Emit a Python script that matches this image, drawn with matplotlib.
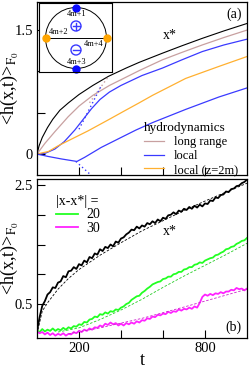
import numpy as np
import matplotlib
matplotlib.use("Agg")
import matplotlib.pyplot as plt
from matplotlib.patches import Circle

plt.rcParams['font.family'] = ['Liberation Serif', 'DejaVu Serif']
plt.rcParams['mathtext.fontset'] = 'stix'

# ---- panel (a) data ----
xs_t = [0, 10, 25, 50, 75, 109, 150, 200, 266, 340, 424, 487, 597, 690, 787, 890, 1000]
xs_v = [0, 0.10, 0.20, 0.32, 0.42, 0.53, 0.62, 0.72, 0.83, 0.94, 1.04, 1.11, 1.22, 1.31, 1.40, 1.49, 1.58]

lr_t = [0, 38, 85, 148, 200, 266, 345, 424, 487, 597, 690, 787, 890, 1000]
lr_v = [0, 0.13, 0.27, 0.45, 0.58, 0.71, 0.83, 0.93, 1.01, 1.14, 1.23, 1.32, 1.41, 1.50]
lr_fit_t = [250, 335]
lr_fit_v = [0.62, 0.92]

loc_t = [0, 40, 85, 130, 180, 220, 260, 300, 345, 400, 450, 500, 597, 690, 787, 890, 1000]
loc_v = [0, 0.01, 0.06, 0.15, 0.29, 0.42, 0.55, 0.66, 0.75, 0.83, 0.89, 0.95, 1.04, 1.14, 1.24, 1.32, 1.39]
loc_fit_t = [200, 305]
loc_fit_v = [0.30, 0.82]

z2_t = [0, 54, 101, 164, 243, 337, 408, 487, 550, 708, 866, 1000]
z2_v = [0, 0.03, 0.10, 0.18, 0.28, 0.41, 0.51, 0.62, 0.71, 0.915, 1.06, 1.18]

low_t = [0, 54, 117, 190, 227, 306, 408, 471, 550, 708, 866, 1000]
low_v = [0, -0.03, -0.06, -0.09, -0.04, 0.08, 0.21, 0.29, 0.38, 0.54, 0.69, 0.80]
low_fit_t = [185, 255]
low_fit_v = [-0.09, -0.25]

# ---- panel (b) data ----
b_black = [0.05, 0.28, 0.47, 0.55, 0.66, 0.70, 0.78, 0.77, 0.86, 0.88, 0.97, 0.95, 1.05,
           1.06, 1.12, 1.09, 1.17, 1.15, 1.23, 1.20, 1.29, 1.27, 1.35, 1.33, 1.42, 1.39,
           1.46, 1.44, 1.50, 1.47, 1.55, 1.53, 1.60, 1.62, 1.67, 1.70, 1.75, 1.74, 1.80,
           1.77, 1.82, 1.80, 1.86, 1.84, 1.89, 1.86, 1.92, 1.89, 1.95, 1.93, 1.99, 2.00,
           2.04, 2.01, 2.07, 2.05, 2.10, 2.08, 2.13, 2.10, 2.15, 2.12, 2.17, 2.14, 2.19,
           2.18, 2.24, 2.23, 2.29, 2.28, 2.33, 2.34, 2.39, 2.38, 2.43, 2.44, 2.48, 2.49,
           2.53, 2.55, 2.59]
b_green = [0.06, 0.03, 0.08, 0.04, 0.07, 0.05, 0.09, 0.05, 0.08, 0.06, 0.10, 0.07, 0.11,
           0.09, 0.13, 0.12, 0.16, 0.15, 0.20, 0.19, 0.24, 0.25, 0.29, 0.28, 0.33, 0.32,
           0.36, 0.34, 0.38, 0.37, 0.41, 0.40, 0.44, 0.46, 0.50, 0.52, 0.57, 0.60, 0.63,
           0.64, 0.69, 0.72, 0.76, 0.79, 0.83, 0.85, 0.87, 0.88, 0.92, 0.93, 0.96, 0.96,
           1.00, 1.01, 1.04, 1.04, 1.08, 1.09, 1.12, 1.12, 1.16, 1.17, 1.20, 1.19, 1.23,
           1.25, 1.27, 1.28, 1.32, 1.33, 1.36, 1.38, 1.42, 1.43, 1.46, 1.47, 1.51, 1.53,
           1.56, 1.57, 1.61]
b_mag = [0.04, 0.01, 0.03, -0.01, 0.02, -0.02, 0.01, -0.03, 0.00, -0.02, 0.01, -0.03, 0.00,
         -0.01, 0.03, 0.01, 0.05, 0.03, 0.07, 0.05, 0.09, 0.07, 0.11, 0.10, 0.14, 0.12,
         0.17, 0.15, 0.19, 0.16, 0.18, 0.14, 0.17, 0.14, 0.18, 0.16, 0.19, 0.17, 0.21,
         0.19, 0.23, 0.22, 0.26, 0.25, 0.29, 0.28, 0.32, 0.31, 0.34, 0.33, 0.37, 0.35,
         0.38, 0.37, 0.41, 0.39, 0.42, 0.41, 0.44, 0.42, 0.46, 0.44, 0.52, 0.62, 0.66,
         0.64, 0.67, 0.65, 0.68, 0.67, 0.70, 0.68, 0.71, 0.71, 0.74, 0.73, 0.77, 0.75,
         0.76, 0.73, 0.76]

fit_black_t = [0, 25, 50, 100, 150, 200, 300, 400, 500, 600, 700, 800, 900, 1000]
fit_black_v = [0.0, 0.38, 0.52, 0.75, 0.93, 1.08, 1.32, 1.53, 1.73, 1.90, 2.07, 2.23, 2.38, 2.53]
fit_green_t = [100, 200, 300, 400, 500, 600, 700, 800, 900, 1000]
fit_green_v = [0.03, 0.10, 0.24, 0.40, 0.58, 0.78, 0.97, 1.15, 1.33, 1.52]
fit_mag_t = [150, 300, 500, 700, 800, 900, 1000]
fit_mag_v = [0.0, 0.10, 0.26, 0.45, 0.55, 0.65, 0.75]

c_brown = '#c8a0a0'
c_blue = '#3a3aff'
c_orange = '#ffb030'

fig = plt.figure(figsize=(2.49, 3.68), dpi=100)
ax1 = fig.add_axes([37/249, 1-175/368, 210/249, 173/368])
ax2 = fig.add_axes([37/249, 1-338/368, 210/249, 159/368])

ylab = r'<h(x,t)>$_{\mathrm{F}_0}$'

# panel (a)
ax1.plot(xs_t, xs_v, color='k', lw=0.8)
ax1.plot(lr_t, lr_v, color=c_brown, lw=0.9, label='long range')
ax1.plot(loc_t, loc_v, color=c_blue, lw=0.9, label='local')
ax1.plot(z2_t, z2_v, color=c_orange, lw=0.9, label='local (z=2m)')
ax1.plot(low_t, low_v, color=c_blue, lw=0.9)
ax1.plot(lr_fit_t, lr_fit_v, color=c_brown, lw=1.0, ls=(0, (1, 2)))
ax1.plot(loc_fit_t, loc_fit_v, color=c_blue, lw=1.0, ls=(0, (1, 2)))
ax1.plot(low_fit_t, low_fit_v, color=c_blue, lw=1.0, ls=(0, (1, 2)))
ax1.set_xlim(0, 1000)
ax1.set_ylim(-0.254, 1.84)
ax1.set_xticks([200, 400, 600, 800])
ax1.set_xticklabels([])
ax1.set_yticks([0, 0.5, 1.0, 1.5])
ax1.set_yticklabels(['0', '', '', '1.5'])
ax1.text(634, 1.44, 'x*', fontsize=10, ha='center', va='center')
ax1.text(941, 1.69, '(a)', fontsize=10, ha='center', va='center')
ax1.set_ylabel(ylab, fontsize=13)
ax1.yaxis.set_label_coords(-0.08, 0.5)
ax1.legend(loc='lower right', bbox_to_anchor=(1.01, -0.07), frameon=False,
           title='hydrodynamics', fontsize=9, title_fontsize=9.5,
           handlelength=1.6, handletextpad=0.8, labelspacing=0.15,
           alignment='left')

# inset
ins = fig.add_axes([39/249, 1-72/368, 73/249, 69/368])
ins.set_xlim(0, 73)
ins.set_ylim(0, 69)
ins.set_xticks([])
ins.set_yticks([])
ins.add_patch(Circle((37, 34), 30.5, fill=False, lw=0.7, color='k'))
ins.plot([7, 68], [34, 34], color='k', lw=0.7)
ins.plot([37, 37], [64.5, 3.5], 'o', color='#0a0aff', ms=5, clip_on=False)
ins.plot([6.5, 67.5], [34, 34], 'o', color='#ffa500', ms=5, clip_on=False)
ins.add_patch(Circle((37, 46), 5, fill=False, lw=1.0, color=c_blue))
ins.plot([33.5, 40.5], [46, 46], color=c_blue, lw=1.0)
ins.plot([37, 37], [42.5, 49.5], color=c_blue, lw=1.0)
ins.add_patch(Circle((37, 22), 5, fill=False, lw=1.0, color=c_blue))
ins.plot([33.5, 40.5], [22, 22], color=c_blue, lw=1.0)
ins.text(38, 57.5, '4m+1', fontsize=6, ha='center', va='center')
ins.text(20, 40, '4m+2', fontsize=6, ha='center', va='center')
ins.text(38, 10, '4m+3', fontsize=6, ha='center', va='center')
ins.text(55, 28, '4m+4', fontsize=6, ha='center', va='center')

# panel (b)
tb = np.linspace(0, 1000, len(b_black))
tg = np.linspace(0, 1000, len(b_green))
tm = np.linspace(0, 1000, len(b_mag))
ax2.plot(tb, b_black, color='k', lw=1.3)
ax2.plot(tg, b_green, color='#22ff22', lw=1.3, label='20')
ax2.plot(tm, b_mag, color='#ff22ff', lw=1.3, label='30')
ax2.plot(fit_black_t, fit_black_v, color='k', lw=0.6, ls=(0, (3, 2)))
ax2.plot(fit_green_t, fit_green_v, color='#22cc22', lw=0.6, ls=(0, (3, 2)))
ax2.plot(fit_mag_t, fit_mag_v, color='#cc22cc', lw=0.6, ls=(0, (3, 2)))
ax2.set_xlim(0, 1000)
ax2.set_ylim(-0.07, 2.60)
ax2.set_xticks([200, 400, 600, 800])
ax2.set_xticklabels(['200', '', '', '800'])
ax2.set_yticks([0.5, 1.0, 1.5, 2.0, 2.5])
ax2.set_yticklabels(['0.5', '', '', '', '2.5'])
ax2.text(634, 1.71, 'x*', fontsize=10, ha='center', va='center')
ax2.text(935, 0.11, '(b)', fontsize=10, ha='center', va='center')
ax2.set_ylabel(ylab, fontsize=13)
ax2.yaxis.set_label_coords(-0.08, 0.5)
ax2.set_xlabel('t', fontsize=13)
ax2.xaxis.set_label_coords(0.5, -0.085)
ax2.legend(loc='upper left', bbox_to_anchor=(0.03, 0.98), frameon=False,
           title='|x-x*| =', fontsize=10, title_fontsize=10,
           handlelength=1.6, handletextpad=0.6, labelspacing=0.05,
           alignment='left')

for ax in (ax1, ax2):
    ax.tick_params(direction='in', length=6, width=0.8, labelsize=10.5, pad=3)
    for s in ax.spines.values():
        s.set_linewidth(0.9)

fig.savefig('out.png', dpi=100)
